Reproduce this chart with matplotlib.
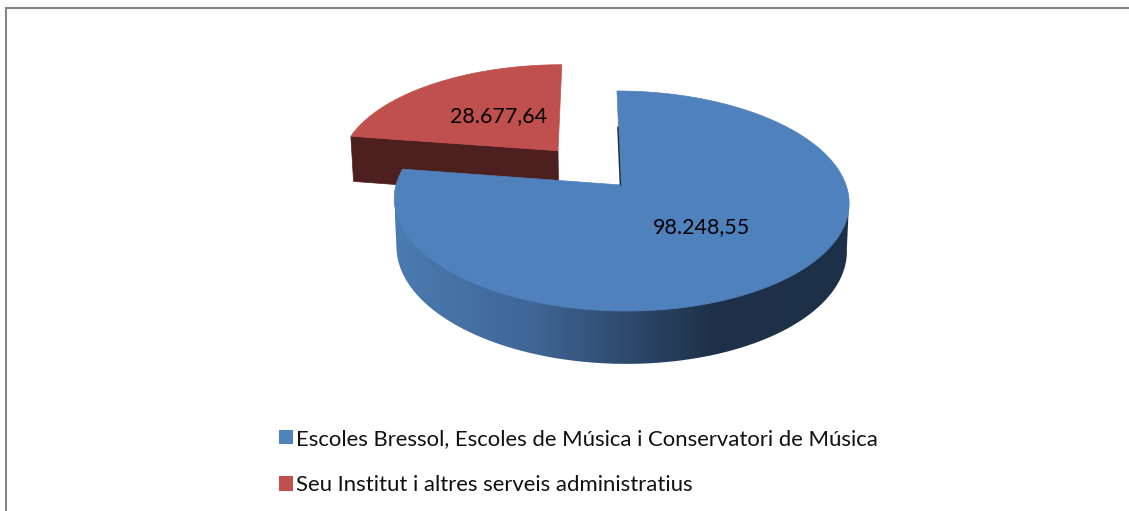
import numpy as np
import matplotlib
matplotlib.use('Agg')
import matplotlib.pyplot as plt
from matplotlib.patches import Polygon, Patch
from matplotlib.colors import LinearSegmentedColormap

categories = ['Escoles Bressol, Escoles de Música i Conservatori de Música',
              'Seu Institut i altres serveis administratius']
values = [98248.55, 28677.64]
value_labels = ['98.248,55', '28.677,64']

BLUE = '#4f81bd'
RED = '#c0504d'
RED_DARK = '#4e1f1f'
PERSP = 0.1455

plt.rcParams['font.family'] = ['Lato', 'DejaVu Sans']

W, H = 1129, 511
fig = plt.figure(figsize=(W / 100, H / 100), dpi=100)
ax = fig.add_axes([0, 0, 1, 1])


def project(u, v, base=False):
    # pie plane (unit circle) to pixels, with a bit of perspective
    d = 1 + PERSP * v
    x = 621 + (225 * u - 4.6 * v) / d
    y = 185 - 107.7 * v / d
    if base:
        x = 621 + (x - 621) * 0.99
        y = 185 + (y - 185) * 0.98 + 47.3 / d
    return np.column_stack([x, y])


def rim(t0, t1, cu=0.0, cv=0.0, base=False):
    t = np.radians(np.linspace(t0, t1, 200))
    return project(cu + np.sin(t), cv + np.cos(t), base)


shares = np.array(values) / sum(values) * 360
blue_end = shares[0]

# red slice is pulled out along its bisector
mid = np.radians(blue_end + shares[1] / 2)
cu, cv = 0.44 * np.sin(mid), 0.44 * np.cos(mid)

# red front wall + top
apex_top = project(np.array([cu]), np.array([cv]))
apex_bot = project(np.array([cu]), np.array([cv]), base=True)
left_top = rim(blue_end, blue_end, cu, cv)[:1]
left_bot = rim(blue_end, blue_end, cu, cv, base=True)[:1]
ax.add_patch(Polygon(np.vstack([left_top, apex_top, apex_bot, left_bot]), fc=RED_DARK, ec=RED_DARK, lw=0.5))
ax.add_patch(Polygon(np.vstack([apex_top, rim(blue_end, 360, cu, cv)]), fc=RED, ec=RED, lw=0.5))

# blue side with the horizontal shading, from silhouette point to silhouette point
t_right = np.degrees(np.arccos(-PERSP))
t_left = 360 - t_right
side = np.vstack([rim(t_right, t_right)[:1], rim(t_right, t_left, base=True), rim(t_left, t_left)[:1]])
cmap = LinearSegmentedColormap.from_list('side', [(0, '#4b7bb2'), (0.3, '#3f6695'), (0.7, '#1e3048'), (1, '#1c3048')])
grad = ax.imshow(np.linspace(0, 1, 256)[None, :], cmap=cmap, extent=(395, 852, 370, 90), aspect='auto', zorder=2)
grad.set_clip_path(Polygon(side, transform=ax.transData))

# blue top + the thin dark edge of the cut
ax.add_patch(Polygon(np.vstack([project(np.array([0.0]), np.array([0.0])), rim(0, blue_end)]), fc=BLUE, ec=BLUE, lw=0.5, zorder=3))
edge = project(np.array([0.0, 0.0]), np.array([0.0, 0.58]))
ax.plot(edge[:, 0] - 0.6, edge[:, 1], color='#1c3048', lw=1.1, zorder=4)

ax.text(701, 227, value_labels[0], fontsize=15.5, ha='center', va='center', color='black', zorder=5)
ax.text(498.5, 116, value_labels[1], fontsize=15.5, ha='center', va='center', color='black', zorder=5)

# chart frame, cut off by the crop
ax.plot([5.5, 5.5, W], [H, 8.5, 8.5], color='#868686', lw=1.5, solid_joinstyle='miter')

handles = [Patch(fc=BLUE, ec='none'), Patch(fc=RED, ec='none')]
ax.legend(handles, categories, loc='upper left', bbox_to_anchor=(261 / W, 1 - 411 / H), frameon=False,
          fontsize=15.9, handlelength=0.65, handleheight=0.65, handletextpad=0.15, labelspacing=1.2,
          borderpad=0.3, labelcolor='#111111')

ax.set_xlim(0, W)
ax.set_ylim(H, 0)
ax.axis('off')
fig.savefig('out.png', dpi=100)
